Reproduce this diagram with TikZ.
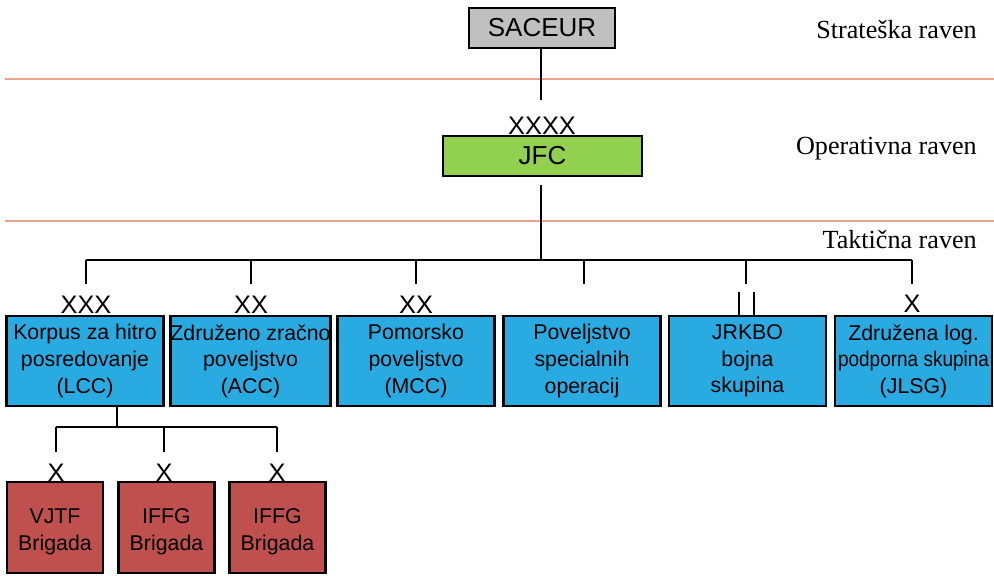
\documentclass[tikz,border=0pt]{standalone}
\usepackage{fontspec}
\setmainfont{Liberation Sans}
\newfontfamily\serifrm{Liberation Serif}
\definecolor{saceurgray}{HTML}{C0C0C0}
\definecolor{jfcgreen}{HTML}{92D050}
\definecolor{boxblue}{HTML}{29ABE2}
\definecolor{boxred}{HTML}{C0504D}
\definecolor{levelline}{HTML}{E9A38F}
\newcommand{\redtext}[2]{\raisebox{-3pt}[\height][\depth]{\begin{tabular}{@{}c@{}}#1\\#2\end{tabular}}}
\begin{document}
\begin{tikzpicture}[x=0.75pt,y=-0.75pt,
  unit/.style={draw=black,line width=2pt,inner sep=0pt,align=center,
    font=\fontsize{16}{19.9}\selectfont},
  topbox/.style={unit,minimum height=30pt,font=\fontsize{19.5}{22}\selectfont},
  bluebox/.style={unit,fill=boxblue,minimum width=117.75pt,minimum height=67.5pt},
  redbox/.style={unit,fill=boxred,minimum width=72pt,minimum height=68.25pt},
  echelon/.style={anchor=base,inner sep=0pt,font=\fontsize{19}{22}\selectfont},
  levelname/.style={anchor=east,inner sep=0pt,font=\serifrm\fontsize{19.6}{22}\selectfont},
  conn/.style={line width=1.5pt,black},
  level/.style={line width=1.5pt,levelline}]
\useasboundingbox (0,0) rectangle (994,575);

% level separators
\coordinate (l1a) at (5,79);   \coordinate (l1b) at (994,79);
\coordinate (l2a) at (5,221);  \coordinate (l2b) at (994,221);
\draw[level] (l1a) -- (l1b);
\draw[level] (l2a) -- (l2b);

% level names
\node[levelname] (strat) at (977,30) {Strateška raven};
\node[levelname] (oper) at (977,149) {Operativna raven};
\node[levelname] (takt) at (977,240) {Taktična raven};

% top nodes
\node[topbox,fill=saceurgray,minimum width=109.5pt] (saceur) at (542,28) {SACEUR};
\node[topbox,fill=jfcgreen,minimum width=149.25pt] (jfc) at (542.5,156) {JFC};
\node[echelon] (xjfc) at (542,134) {XXXX};

% blue boxes
\node[bluebox] (lcc) at (85,361) {Korpus za hitro\\posredovanje\\(LCC)};
\node[bluebox] (acc) at (250.5,361) {Združeno zračno\\poveljstvo\\(ACC)};
\node[bluebox] (mcc) at (416,361) {Pomorsko\\poveljstvo\\(MCC)};
\node[bluebox] (sof) at (582,361) {Poveljstvo\\specialnih\\operacij};
\node[bluebox] (jrk) at (747.5,361) {JRKBO\\bojna\\skupina};
\node[bluebox] (jlsg) at (913.5,361) {Združena log.\\\scalebox{0.89}[1]{podporna skupina}\\(JLSG)};

\node[echelon] (xlcc) at (86,313) {XXX};
\node[echelon] (xacc) at (251,313) {XX};
\node[echelon] (xmcc) at (416,313) {XX};
\node[echelon] (xjlsg) at (912,312) {X};

% red boxes
\node[redbox] (vjtf) at (55,527.5) {\redtext{VJTF}{Brigada}};
\node[redbox] (iffga) at (166.5,527.5) {\redtext{IFFG}{Brigada}};
\node[redbox] (iffgb) at (277.5,527.5) {\redtext{IFFG}{Brigada}};
\node[echelon] (xv) at (56,481) {X};
\node[echelon] (xi1) at (164,481) {X};
\node[echelon] (xi2) at (277,481) {X};

% connectors top
\coordinate (sEnd) at (541,100);
\draw[conn] (saceur.south -| sEnd) -- (sEnd);
\coordinate (jStart) at (541,185);
\coordinate (busC) at (541,260);
\draw[conn] (jStart) -- (busC);

% tactical bus
\coordinate (busL) at (86,260);
\coordinate (busR) at (912,260);
\draw[conn] (busL) -- (busR);
\foreach \x/\n in {86/a,251/b,416/c,584/d,746/e,912/f}{
  \coordinate (dt\n) at (\x,260);
  \coordinate (db\n) at (\x,284);
  \draw[conn] (dt\n) -- (db\n);
}

% battalion marker for JRKBO
\coordinate (bar1t) at (739,292); \coordinate (bar2t) at (754,292);
\draw[conn] (bar1t) -- (bar1t |- jrk.north);
\draw[conn] (bar2t) -- (bar2t |- jrk.north);

% LCC sub-bus
\coordinate (lccB) at (117,427);
\draw[conn] (lccB |- lcc.south) -- (lccB);
\coordinate (sbL) at (56,427);
\coordinate (sbR) at (277,427);
\draw[conn] (sbL) -- (sbR);
\foreach \x/\n in {56/a,164/b,277/c}{
  \coordinate (st\n) at (\x,427);
  \coordinate (sb\n) at (\x,452);
  \draw[conn] (st\n) -- (sb\n);
}
\end{tikzpicture}
\end{document}
